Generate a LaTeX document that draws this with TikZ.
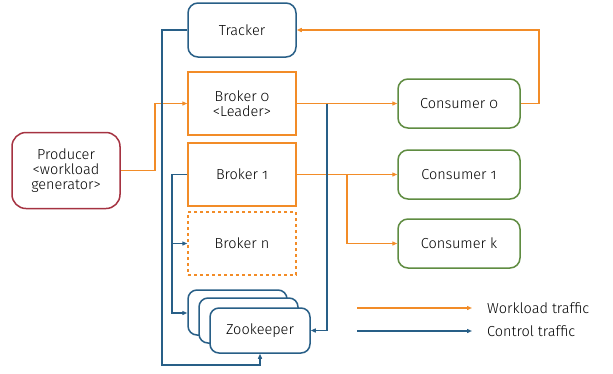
\documentclass[tikz,border=0pt]{standalone}
\usepackage{fontspec}
\setmainfont{Fira Sans Light}[Numbers=OldStyle]
\usetikzlibrary{arrows.meta}
\definecolor{wk}{RGB}{242,140,40}
\definecolor{ct}{RGB}{40,95,135}
\definecolor{gr}{RGB}{95,140,65}
\definecolor{rd}{RGB}{165,50,65}
\tikzset{
  box/.style={draw, line width=1.5pt, minimum width=108pt, align=center, font=\fontsize{14.5}{15}\selectfont, fill=white, inner sep=2pt},
  brk/.style={box, draw=wk, minimum height=63pt},
  trk/.style={box, draw=ct, rounded corners=10pt, minimum height=54pt},
  zk/.style={box, draw=ct, rounded corners=9pt, minimum width=99pt, minimum height=45pt},
  cons/.style={box, draw=gr, rounded corners=10pt, minimum width=122pt, minimum height=49pt},
  prd/.style={box, draw=rd, rounded corners=14pt, minimum height=76pt},
  tip/.style={-{Triangle[length=5pt,width=4pt]}},
  work/.style={draw=wk, line width=1.5pt, tip, color=wk},
  ctrl/.style={draw=ct, line width=1.4pt, tip, color=ct},
  lbl/.style={anchor=west, font=\fontsize{14.5}{15}\selectfont, inner sep=0pt}
}
\begin{document}
\begin{tikzpicture}[x=1pt,y=-1pt]
\useasboundingbox[fill=white] (0,0) rectangle (613,373);
% nodes
\node[trk] (tr) at (242,30) {Tracker};
\node[brk] (b0) at (242,103.5) {Broker 0\\<Leader>};
\node[brk] (b1) at (242,174.5) {Broker 1};
\node[brk, dashed] (bn) at (242,243.5) {Broker n};
\node[zk] (zk3) at (237.5,312.5) {};
\node[zk] (zk2) at (248.5,320.5) {};
\node[zk, minimum width=100pt] (zk1) at (260,330.5) {Zookeeper};
\node[prd] (prod) at (66,170.5) {Producer\\<workload\\generator>};
\node[cons] (c0) at (459,103.5) {Consumer 0};
\node[cons] (c1) at (459,174.5) {Consumer 1};
\node[cons] (ck) at (459,243.5) {Consumer k};
% workload traffic
\draw[work] (prod.east) -- ++(34,0) |- (b0.west);
\draw[work] (b0.east) -- (c0.west);
\draw[work] (c0.east) -- ++(18,0) |- (tr.east);
\draw[work] (b1.east) -- (c1.west);
\coordinate (br) at (347,174.5);
\draw[work] (br) |- (ck.west);
% control traffic
\coordinate (tl) at (162,365);
\draw[ctrl] (tr.west) -| (tl) -| (zk1.south);
\coordinate (bv) at (327,103.5);
\draw[ctrl] (bv) |- (zk1.east);
\coordinate (bl) at (172,313);
\draw[ctrl] (b1.west) -| (bl) -- (bl -| zk3.west);
\coordinate (bnb) at (172,243.5);
\draw[ctrl] (bnb) -- (bn.west);
% legend
\coordinate (l1a) at (357,308);
\coordinate (l1b) at (472,308);
\coordinate (l2a) at (357,331);
\coordinate (l2b) at (472,331);
\draw[work] (l1a) -- (l1b);
\draw[ctrl] (l2a) -- (l2b);
\node[lbl] (t1) at (487,308) {Workload traffic};
\node[lbl] (t2) at (487,331) {Control traffic};
\end{tikzpicture}
\end{document}
